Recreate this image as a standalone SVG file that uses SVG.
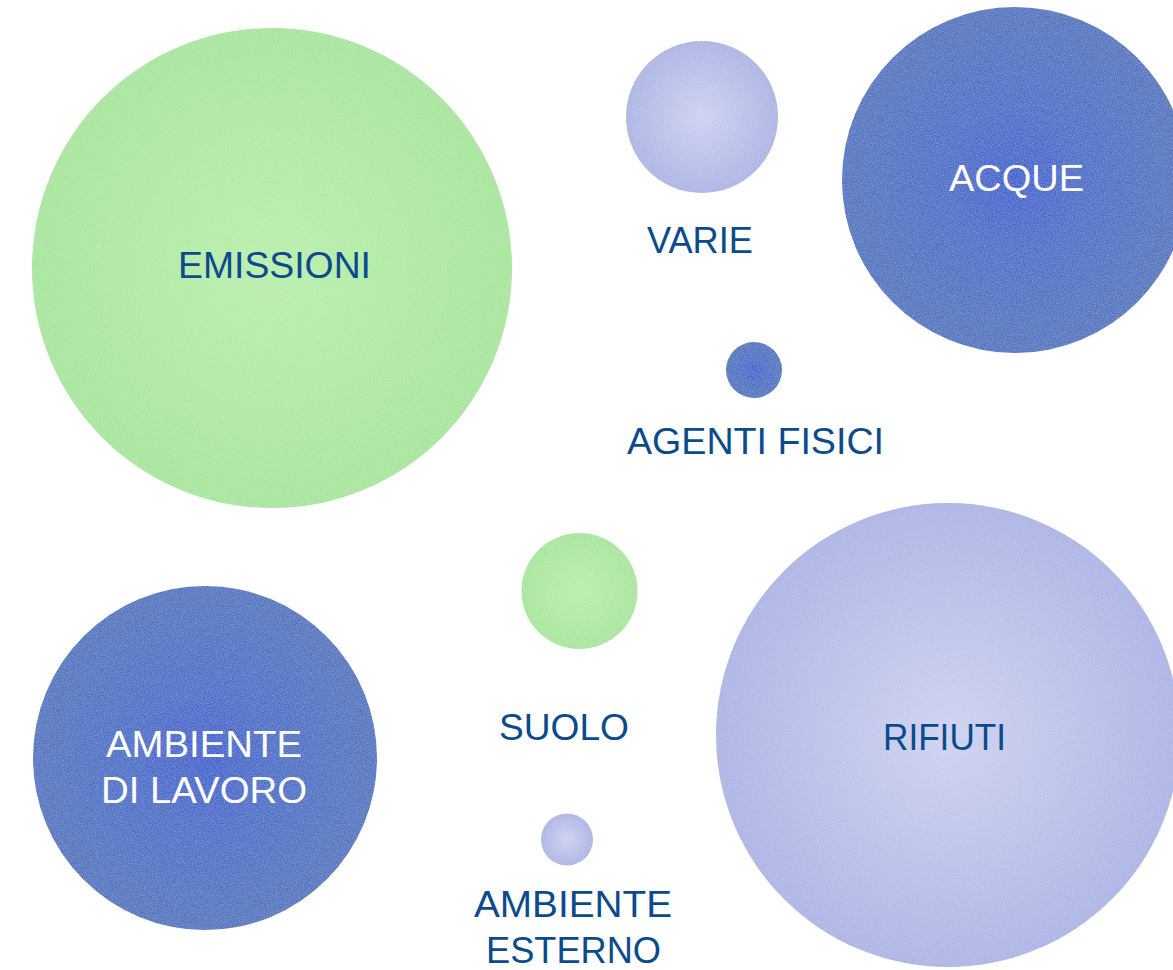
<svg xmlns="http://www.w3.org/2000/svg" width="1173" height="970" viewBox="0 0 1173 970">
  <defs>
    <radialGradient id="gGreen" cx="0.5" cy="0.5" r="0.5">
      <stop offset="0" stop-color="#b9efac"/>
      <stop offset="1" stop-color="#a8e59d"/>
    </radialGradient>
    <radialGradient id="gBlue" cx="0.5" cy="0.5" r="0.5">
      <stop offset="0" stop-color="#3f62cf"/>
      <stop offset="0.4" stop-color="#4a6fc8"/>
      <stop offset="1" stop-color="#5276c0"/>
    </radialGradient>
    <radialGradient id="gLav" cx="0.5" cy="0.5" r="0.5">
      <stop offset="0" stop-color="#cdd2f1"/>
      <stop offset="1" stop-color="#acb4e4"/>
    </radialGradient>
    <filter id="grain" x="0" y="0" width="100%" height="100%">
      <feTurbulence type="fractalNoise" baseFrequency="0.9" numOctaves="2" seed="3" result="n"/>
      <feColorMatrix in="n" type="matrix" values="0 0 0 0 1  0 0 0 0 1  0 0 0 0 1  0 0 0 0.3 -0.1" result="w"/>
      <feComposite in="w" in2="SourceGraphic" operator="in" result="wc"/>
      <feMerge><feMergeNode in="SourceGraphic"/><feMergeNode in="wc"/></feMerge>
    </filter>
  </defs>
  <style>
    text { font-family: "Liberation Sans", Arial, sans-serif; font-size: 36px; text-anchor: middle; }
    .dark { fill: #0b4a8d; }
    .light { fill: #ffffff; }
    .green { fill: url(#gGreen); }
    .blue { fill: url(#gBlue); }
    .lav { fill: url(#gLav); }
  </style>
  <rect width="1173" height="970" fill="#ffffff"/>
  <g id="connectors"></g>
  <g id="emissioni">
    <circle class="green" cx="272" cy="268" r="240" filter="url(#grain)"/>
    <text class="dark" x="274.5" y="278" textLength="193" lengthAdjust="spacingAndGlyphs">EMISSIONI</text>
  </g>
  <g id="varie">
    <circle class="lav" cx="702" cy="117" r="76" filter="url(#grain)"/>
    <text class="dark" x="700" y="253" textLength="106" lengthAdjust="spacingAndGlyphs">VARIE</text>
  </g>
  <g id="acque">
    <circle class="blue" cx="1015" cy="180" r="173" filter="url(#grain)"/>
    <text class="light" x="1016.5" y="191" textLength="135" lengthAdjust="spacingAndGlyphs">ACQUE</text>
  </g>
  <g id="agenti-fisici">
    <circle class="blue" cx="754" cy="370" r="28" filter="url(#grain)"/>
    <text class="dark" x="755.5" y="454" textLength="257" lengthAdjust="spacingAndGlyphs">AGENTI FISICI</text>
  </g>
  <g id="suolo">
    <circle class="green" cx="579.5" cy="591" r="58" filter="url(#grain)"/>
    <text class="dark" x="564" y="740" textLength="130" lengthAdjust="spacingAndGlyphs">SUOLO</text>
  </g>
  <g id="rifiuti">
    <circle class="lav" cx="948" cy="735" r="232" filter="url(#grain)"/>
    <text class="dark" x="944.5" y="750" textLength="123" lengthAdjust="spacingAndGlyphs">RIFIUTI</text>
  </g>
  <g id="ambiente-di-lavoro">
    <circle class="blue" cx="205" cy="758" r="172" filter="url(#grain)"/>
    <text class="light" x="204" y="757" textLength="196" lengthAdjust="spacingAndGlyphs">AMBIENTE</text>
    <text class="light" x="204" y="803" textLength="206" lengthAdjust="spacingAndGlyphs">DI LAVORO</text>
  </g>
  <g id="ambiente-esterno">
    <circle class="lav" cx="567" cy="839.5" r="26" filter="url(#grain)"/>
    <text class="dark" x="573" y="917" textLength="198" lengthAdjust="spacingAndGlyphs">AMBIENTE</text>
    <text class="dark" x="573.5" y="963" textLength="175" lengthAdjust="spacingAndGlyphs">ESTERNO</text>
  </g>
</svg>
